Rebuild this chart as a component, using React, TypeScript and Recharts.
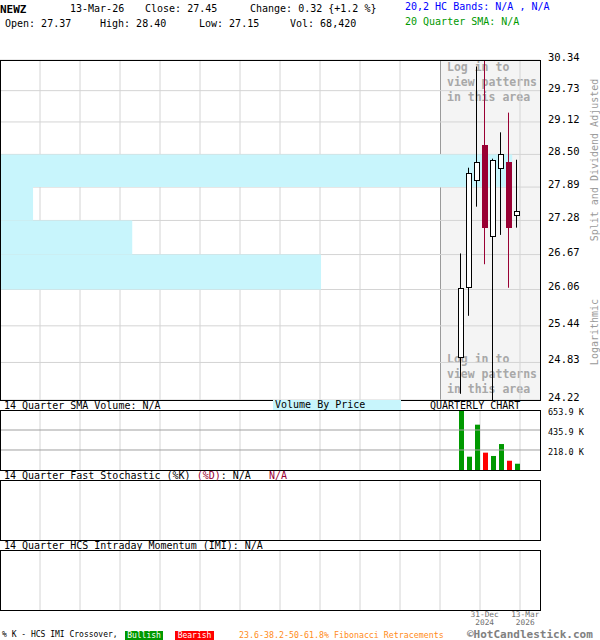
import {
  ComposedChart,
  Bar,
  Cell,
  Line,
  Scatter,
  XAxis,
  YAxis,
  CartesianGrid,
  ReferenceArea,
  ReferenceLine,
} from 'recharts';

const MONO = "'DejaVu Sans Mono', monospace";

// quarterly candles, Q2 2024 .. Q1 2026
const QUARTERS = ['Q2-24', 'Q3-24', 'Q4-24', 'Q1-25', 'Q2-25', 'Q3-25', 'Q4-25', 'Q1-26'];
const OPEN = [24.92, 26.1, 28.02, 28.67, 27.0, 28.24, 28.36, 27.37];
const HIGH = [26.69, 28.25, 30.21, 30.34, 28.42, 28.92, 29.3, 28.4];
const LOW = [24.32, 25.61, 27.53, 26.5, 24.22, 27.02, 26.09, 27.15];
const CLOSE = [26.08, 28.15, 28.36, 27.15, 28.4, 28.51, 27.14, 27.45];
const VOLUME = [650000, 145000, 494000, 189000, 153000, 283000, 101000, 68420];

// empty quarter slots before / after the traded quarters
const LEAD_SLOTS = 57;
const TRAIL_SLOTS = 2;

const PRICE_TICKS = [24.22, 24.83, 25.44, 26.06, 26.67, 27.28, 27.89, 28.5, 29.12, 29.73, 30.34];
const VOLUME_TICKS = [218000, 435900, 653900];
const STOCH_TICKS = [20, 50, 80];
const IMI_TICKS = [30, 50, 70];

// volume by price (thousands of shares per price band)
const VBP_LOW = [27.89, 27.28, 26.67, 26.06];
const VBP_HIGH = [28.5, 27.89, 27.28, 26.67];
const VBP_VOLUME = [1069, 69, 276, 670];
const VBP_MAX = 1127;

const DATE_TICKS: Record<string, string[]> = {
  'Q4-24': ['31-Dec', '2024'],
  'Q1-26': ['13-Mar', '2026'],
};

const GRID_X = [40, 80, 120, 160, 200, 240, 280, 320, 360, 400, 440, 480, 520];
const MAIN_GRID_X = GRID_X.filter((x) => x < 440 || x === 520);

interface Row {
  q: string;
  open?: number;
  high?: number;
  low?: number;
  close?: number;
  range?: [number, number];
  vol?: number;
  up?: boolean;
  k?: number;
  imi?: number;
}

const rows: Row[] = [];
for (let i = 0; i < LEAD_SLOTS; i++) rows.push({ q: `pre${i}` });
QUARTERS.forEach((q, i) =>
  rows.push({
    q,
    open: OPEN[i],
    high: HIGH[i],
    low: LOW[i],
    close: CLOSE[i],
    range: [LOW[i], HIGH[i]],
    vol: VOLUME[i],
    up: CLOSE[i] >= OPEN[i],
  })
);
for (let i = 0; i < TRAIL_SLOTS; i++) rows.push({ q: `post${i}` });

// anchor points so the volume-by-price axis gets a real domain
const vbpRows = VBP_VOLUME.map((v, i) => ({ vbp: v, price: (VBP_LOW[i] + VBP_HIGH[i]) / 2 }));

function Candle(props: any) {
  const { x, y, width, height, payload } = props;
  if (!payload || payload.open == null || !height) return <g />;
  const lh = Math.log(payload.high);
  const ll = Math.log(payload.low);
  const py = (v: number) => y + (height * (lh - Math.log(v))) / (lh - ll);
  const up = payload.close >= payload.open;
  const color = up ? '#000' : '#990033';
  const wx = Math.floor(x + width / 2) - 0.5;
  const top = Math.round(py(Math.max(payload.open, payload.close)));
  const bottom = Math.round(py(Math.min(payload.open, payload.close)));
  return (
    <g>
      <line x1={wx} x2={wx} y1={py(payload.high)} y2={py(payload.low)} stroke={color} strokeWidth={1} />
      {up ? (
        <rect x={x + 0.5} y={top + 0.5} width={width - 1} height={Math.max(bottom - top, 1)} fill="#fff" stroke="#000" />
      ) : (
        <rect x={x} y={top} width={width} height={Math.max(bottom - top, 1)} fill="#990033" />
      )}
    </g>
  );
}

const priceTick = (p: any) => (
  <text x={p.x} y={p.y} dy={1} fontSize={10.5} fill="#000" fontFamily={MONO}>
    {Number(p.payload.value).toFixed(2)}
  </text>
);

const volumeTick = (p: any) => (
  <text x={p.x} y={p.y} dy={5} fontSize={8.5} fill="#000" fontFamily={MONO}>
    {(p.payload.value / 1000).toFixed(1) + ' K'}
  </text>
);

const pctTick = (p: any) => (
  <text x={p.x} y={p.y} dy={3} fontSize={8.5} fill="#000" fontFamily={MONO}>
    {p.payload.value + '%'}
  </text>
);

const dateTick = (p: any) => {
  const lines = DATE_TICKS[p.payload.value];
  if (!lines) return <g />;
  return (
    <g fontFamily={MONO} fontSize={7.8} fill="#707070" textAnchor="middle">
      <text x={p.x + 4.5} y={p.y + 7}>{lines[0]}</text>
      <text x={p.x + 4.5} y={p.y + 15}>{lines[1]}</text>
    </g>
  );
};

function Txt({ x, y, size = 10, color = '#000', bold = false, children }: any) {
  return (
    <div
      style={{
        position: 'absolute',
        left: x,
        top: y - size / 2,
        fontSize: size,
        lineHeight: `${size}px`,
        color,
        fontWeight: bold ? 'bold' : 'normal',
        whiteSpace: 'pre',
      }}
    >
      {children}
    </div>
  );
}

function Frame({ top, height }: { top: number; height: number }) {
  return (
    <div
      style={{
        position: 'absolute',
        left: 0,
        top,
        width: 541,
        height: height + 1,
        boxSizing: 'border-box',
        border: '1px solid #000',
        pointerEvents: 'none',
      }}
    />
  );
}

const loginText = {
  position: 'absolute' as const,
  left: 6,
  fontSize: 11.5,
  lineHeight: '15px',
  fontWeight: 'bold' as const,
  color: '#a8a8a8',
  whiteSpace: 'pre' as const,
};

export default function App() {
  return (
    <div
      style={{
        position: 'absolute',
        left: 0,
        top: 0,
        width: 600,
        height: 640,
        background: '#fff',
        fontFamily: MONO,
        overflow: 'hidden',
      }}
    >
      {/* header */}
      <Txt x={0} y={9} size={11} bold>NEWZ</Txt>
      <Txt x={70} y={9}>13-Mar-26</Txt>
      <Txt x={145} y={9}>Close: 27.45</Txt>
      <Txt x={250} y={9}>{'Change: 0.32 {+1.2 %}'}</Txt>
      <Txt x={405} y={7} color="#0000ff">20,2 HC Bands: N/A , N/A</Txt>
      <Txt x={5} y={24}>Open: 27.37</Txt>
      <Txt x={100} y={24}>High: 28.40</Txt>
      <Txt x={199} y={24}>Low: 27.15</Txt>
      <Txt x={290} y={24}>Vol: 68,420</Txt>
      <Txt x={405} y={22} color="#009900">20 Quarter SMA: N/A</Txt>

      {/* login overlay under the candles */}
      <div
        style={{
          position: 'absolute',
          left: 440,
          top: 60,
          width: 101,
          height: 340,
          background: '#f4f4f4',
          borderLeft: '1px solid #9a9a9a',
          boxSizing: 'border-box',
        }}
      >
        <div style={{ ...loginText, top: -0.5 }}>{'Log in to\nview patterns\nin this area'}</div>
        <div style={{ ...loginText, top: 291.5 }}>{'Log in to\nview patterns\nin this area'}</div>
      </div>

      {/* price panel */}
      <div style={{ position: 'absolute', left: 0, top: 0 }}>
        <ComposedChart width={600} height={410} data={rows} margin={{ top: 60, right: 0, bottom: 10, left: 0 }}>
          <CartesianGrid stroke="#d4d4d4" verticalPoints={MAIN_GRID_X} />
          <XAxis dataKey="q" hide padding={{ left: 1, right: 3 }} />
          <XAxis xAxisId="vbp" dataKey="vbp" type="number" domain={[0, VBP_MAX]} allowDataOverflow hide />
          <YAxis
            orientation="right"
            width={60}
            scale="log"
            domain={[24.22, 30.34]}
            ticks={PRICE_TICKS}
            interval={0}
            allowDataOverflow
            axisLine={false}
            tickLine={false}
            tick={priceTick}
          />
          <Scatter xAxisId="vbp" data={vbpRows} dataKey="price" shape={() => <g />} isAnimationActive={false} />
          {VBP_VOLUME.map((v, i) => (
            <ReferenceArea
              key={i}
              xAxisId="vbp"
              x1={0}
              x2={v}
              y1={VBP_LOW[i]}
              y2={VBP_HIGH[i]}
              fill="#c8f5fc"
              fillOpacity={1}
              stroke="none"
            />
          ))}
          <Bar dataKey="range" barSize={6} shape={Candle} isAnimationActive={false} />
        </ComposedChart>
      </div>

      {/* volume panel */}
      <div style={{ position: 'absolute', left: 0, top: 400 }}>
        <ComposedChart width={600} height={80} data={rows} margin={{ top: 10, right: 0, bottom: 10, left: 0 }}>
          <CartesianGrid stroke="#d4d4d4" horizontal={false} verticalPoints={GRID_X} />
          <XAxis dataKey="q" hide padding={{ left: 1, right: 3 }} />
          <YAxis
            orientation="right"
            width={60}
            domain={[0, 653900]}
            ticks={VOLUME_TICKS}
            interval={0}
            allowDataOverflow
            axisLine={false}
            tickLine={false}
            tick={volumeTick}
          />
          {VOLUME_TICKS.slice(0, 2).map((v) => (
            <ReferenceLine key={v} y={v} stroke="#a0a0a0" />
          ))}
          <Bar dataKey="vol" barSize={5} isAnimationActive={false}>
            {rows.map((r, i) => (
              <Cell key={i} fill={r.up ? '#009900' : '#ff0000'} />
            ))}
          </Bar>
        </ComposedChart>
      </div>

      {/* stochastic panel */}
      <div style={{ position: 'absolute', left: 0, top: 470 }}>
        <ComposedChart width={600} height={80} data={rows} margin={{ top: 10, right: 0, bottom: 10, left: 0 }}>
          <CartesianGrid stroke="#d4d4d4" horizontal={false} verticalPoints={GRID_X} />
          <XAxis dataKey="q" hide padding={{ left: 1, right: 3 }} />
          <YAxis
            orientation="right"
            width={60}
            domain={[0, 100]}
            ticks={STOCH_TICKS}
            interval={0}
            axisLine={false}
            tickLine={false}
            tick={pctTick}
          />
          <ReferenceLine y={80} stroke="#a0a0a0" />
          <ReferenceLine y={50} stroke="#a0a0a0" strokeDasharray="4 3" />
          <ReferenceLine y={20} stroke="#a0a0a0" />
          <Line dataKey="k" stroke="#000" dot={false} isAnimationActive={false} />
        </ComposedChart>
      </div>

      {/* IMI panel */}
      <div style={{ position: 'absolute', left: 0, top: 540 }}>
        <ComposedChart width={600} height={100} data={rows} margin={{ top: 10, right: 0, bottom: 0, left: 0 }}>
          <CartesianGrid stroke="#d4d4d4" horizontal={false} verticalPoints={GRID_X} />
          <XAxis
            dataKey="q"
            padding={{ left: 1, right: 3 }}
            height={30}
            ticks={['Q4-24', 'Q1-26']}
            interval={0}
            axisLine={false}
            tickLine={false}
            tickSize={0}
            tickMargin={0}
            tick={dateTick}
          />
          <YAxis
            orientation="right"
            width={60}
            domain={[0, 100]}
            ticks={IMI_TICKS}
            interval={0}
            axisLine={false}
            tickLine={false}
            tick={pctTick}
          />
          <ReferenceLine y={70} stroke="#a0a0a0" />
          <ReferenceLine y={50} stroke="#a0a0a0" strokeDasharray="4 3" />
          <ReferenceLine y={30} stroke="#a0a0a0" />
          <Line dataKey="imi" stroke="#000" dot={false} isAnimationActive={false} />
        </ComposedChart>
      </div>

      <Frame top={60} height={340} />
      <Frame top={410} height={60} />
      <Frame top={480} height={60} />
      <Frame top={550} height={60} />

      {/* panel titles */}
      <Txt x={4} y={406}>14 Quarter SMA Volume: N/A</Txt>
      <div
        style={{
          position: 'absolute',
          left: 273,
          top: 400,
          width: 128,
          height: 10,
          background: '#c8f5fc',
          fontSize: 10,
          lineHeight: '10px',
          paddingLeft: 2,
          boxSizing: 'border-box',
          whiteSpace: 'pre',
        }}
      >
        Volume By Price
      </div>
      <Txt x={430} y={406}>QUARTERLY CHART</Txt>
      <div
        style={{ position: 'absolute', left: 4, top: 471, fontSize: 10, lineHeight: '10px', whiteSpace: 'pre' }}
      >
        {'14 Quarter Fast Stochastic (%K) '}
        <span style={{ color: '#990033' }}>(%D)</span>
        {': N/A   '}
        <span style={{ color: '#990033' }}>N/A</span>
      </div>
      <Txt x={4} y={546}>14 Quarter HCS Intraday Momentum (IMI): N/A</Txt>

      {/* right side notes */}
      <div
        style={{
          position: 'absolute',
          left: 510,
          top: 154,
          width: 170,
          height: 12,
          fontSize: 10,
          lineHeight: '12px',
          textAlign: 'center',
          color: '#9a9a9a',
          transform: 'rotate(-90deg)',
          transformOrigin: '85px 6px',
          whiteSpace: 'pre',
        }}
      >
        Split and Dividend Adjusted
      </div>
      <div
        style={{
          position: 'absolute',
          left: 555,
          top: 326,
          width: 80,
          height: 12,
          fontSize: 10,
          lineHeight: '12px',
          textAlign: 'center',
          color: '#9a9a9a',
          transform: 'rotate(-90deg)',
          transformOrigin: '40px 6px',
          whiteSpace: 'pre',
        }}
      >
        Logarithmic
      </div>

      {/* footer */}
      <Txt x={2} y={635} size={8}>% K - HCS IMI Crossover,</Txt>
      <div
        style={{
          position: 'absolute',
          left: 125,
          top: 631,
          width: 38,
          height: 9,
          background: '#009900',
          color: '#fff',
          fontSize: 8,
          lineHeight: '9px',
          textAlign: 'center',
        }}
      >
        Bullish
      </div>
      <div
        style={{
          position: 'absolute',
          left: 175,
          top: 631,
          width: 39,
          height: 9,
          background: '#ff0000',
          color: '#fff',
          fontSize: 8,
          lineHeight: '9px',
          textAlign: 'center',
        }}
      >
        Bearish
      </div>
      <Txt x={239} y={635} size={8.3} color="#ff8c1a">23.6-38.2-50-61.8% Fibonacci Retracements</Txt>
      <Txt x={467} y={634.5} size={11} bold color="#808080">©HotCandlestick.com</Txt>
    </div>
  );
}
